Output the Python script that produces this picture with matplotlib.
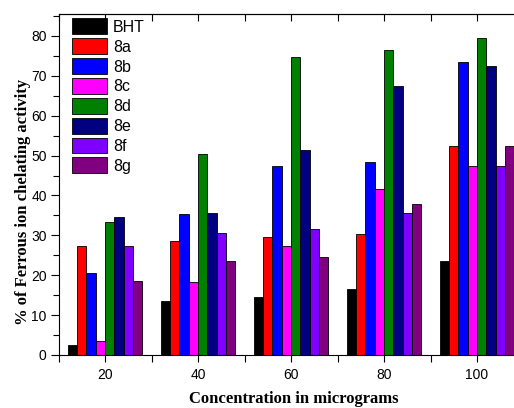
import matplotlib
matplotlib.use("Agg")
import matplotlib.pyplot as plt
import numpy as np
from matplotlib.ticker import MultipleLocator

concentrations = [20, 40, 60, 80, 100]
series_names = ["BHT", "8a", "8b", "8c", "8d", "8e", "8f", "8g"]
bht = [2.5, 13.5, 14.5, 16.5, 23.5]
c8a = [27.4, 28.5, 29.6, 30.4, 52.5]
c8b = [20.5, 35.4, 47.5, 48.5, 73.4]
c8c = [3.6, 18.4, 27.4, 41.5, 47.4]
c8d = [33.4, 50.4, 74.6, 76.4, 79.6]
c8e = [34.6, 35.5, 51.4, 67.5, 72.4]
c8f = [27.4, 30.6, 31.5, 35.5, 47.5]
c8g = [18.5, 23.6, 24.5, 37.9, 52.5]
colors = ["#000000", "#ff0000", "#0000ff", "#ff00ff", "#008000", "#000080", "#8000ff", "#800080"]

series = [bht, c8a, c8b, c8c, c8d, c8e, c8f, c8g]

W, H = 514, 408
fig = plt.figure(figsize=(W / 100, H / 100), dpi=100)
left_px, right_px = 58.5, 523.5
bottom_px, top_px = 355, 14
ax = fig.add_axes([left_px / W, (H - bottom_px) / H, (right_px - left_px) / W, (bottom_px - top_px) / H])

bw = 2.0
x = np.array(concentrations, dtype=float)
for i, (name, vals, col) in enumerate(zip(series_names, series, colors)):
    ax.bar(x + (i - 3.5) * bw, vals, width=bw, color=col, edgecolor="black", linewidth=0.6, label=name)

ax.set_xlim(10, 110)
ax.set_ylim(0, 85.5)
ax.set_xticks(concentrations)
ax.xaxis.set_minor_locator(MultipleLocator(10))
ax.yaxis.set_major_locator(MultipleLocator(10))
ax.yaxis.set_minor_locator(MultipleLocator(5))

tickfont = "Liberation Sans"
for lab in ax.get_xticklabels() + ax.get_yticklabels():
    lab.set_fontfamily(tickfont)
    lab.set_fontsize(10)

ax.tick_params(axis="y", which="major", direction="out", length=6, width=0.8, left=True, right=False, pad=2.5)
ax.tick_params(axis="y", which="minor", direction="out", length=4, width=0.8, left=True, right=False)
ax.tick_params(axis="x", which="major", direction="out", length=5, width=0.8, top=False, bottom=True, pad=4.5)
ax.tick_params(axis="x", which="minor", direction="out", length=5, width=0.8, top=False, bottom=True)
for s in ax.spines.values():
    s.set_linewidth(0.8)

# top ticks pointing inward
ax2 = ax.secondary_xaxis("top")
ax2.set_xticks(np.arange(10, 111, 10))
ax2.tick_params(direction="in", length=5, width=0.8, labeltop=False)
ax2.set_xticklabels([])

fig.text(294 / W, (H - 403) / H, "Concentration in micrograms", family="Liberation Serif",
         fontweight="bold", fontsize=12, ha="center", va="baseline")
fig.text(23 / W, (H - 202) / H, "% of Ferrous ion chelating activity", family="Liberation Serif",
         fontweight="bold", fontsize=12, ha="center", va="center", rotation=90)

leg = ax.legend(loc="upper left", bbox_to_anchor=((71.5 - left_px) / (right_px - left_px), 1 - (4.5) / (bottom_px - top_px)),
                frameon=False, prop={"family": "Liberation Sans", "size": 11.5},
                handlelength=2.2, handleheight=1.15, labelspacing=0.22, handletextpad=0.4, borderaxespad=0, borderpad=0)

fig.savefig("out.png", dpi=100)
